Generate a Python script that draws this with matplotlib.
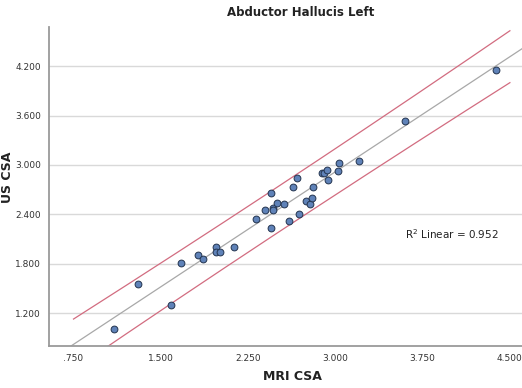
import numpy as np
import matplotlib.pyplot as plt

# valores
mri_csa = [1.099, 1.308, 1.586, 1.674, 1.823, 1.861, 1.975, 1.975, 2.009, 2.127,
           2.319, 2.399, 2.448, 2.448, 2.467, 2.467, 2.499, 2.559, 2.605, 2.634,
           2.674, 2.686, 2.748, 2.783, 2.797, 2.808, 2.883, 2.903, 2.926, 2.935,
           3.021, 3.032, 3.201, 3.599, 4.381]
us_csa = [1.010, 1.552, 1.301, 1.807, 1.907, 1.859, 2.008, 1.940, 1.940, 2.008,
          2.350, 2.453, 2.663, 2.238, 2.481, 2.453, 2.535, 2.522, 2.316, 2.729,
          2.841, 2.405, 2.559, 2.522, 2.595, 2.732, 2.906, 2.906, 2.942, 2.814,
          2.930, 3.020, 3.051, 3.529, 4.152]
xticks = [0.75, 1.5, 2.25, 3.0, 3.75, 4.5]
xtick_labels = ['.750', '1.500', '2.250', '3.000', '3.750', '4.500']
yticks = [1.2, 1.8, 2.4, 3.0, 3.6, 4.2]
r2_text = 'R$^2$ Linear = 0.952'

x = np.array(mri_csa)
y = np.array(us_csa)
n = len(x)

# ajuste lineal e intervalo de prediccion individual 95%
b1, b0 = np.polyfit(x, y, 1)
resid = y - (b0 + b1 * x)
s = np.sqrt(np.sum(resid ** 2) / (n - 2))
t = 2.0345
sxx = np.sum((x - x.mean()) ** 2)

fig = plt.figure(figsize=(5.22, 3.88), dpi=100)
ax = fig.add_axes([0.094, 0.109, 0.906, 0.822])

ax.set_xlim(0.54, 4.604)
ax.set_ylim(0.807, 4.677)

xs = np.linspace(0.54, 4.604, 200)
ax.plot(xs, b0 + b1 * xs, color='#a8a8a8', lw=0.9, zorder=2)

xi = np.linspace(0.75, 4.5, 200)
half = t * s * np.sqrt(1 + 1 / n + (xi - x.mean()) ** 2 / sxx)
ax.plot(xi, b0 + b1 * xi + half, color='#d26c80', lw=0.9, zorder=2)
ax.plot(xi, b0 + b1 * xi - half, color='#d26c80', lw=0.9, zorder=2)

ax.scatter(x, y, s=24, color='#5f82b8', edgecolor='#23344f', linewidth=0.7, zorder=3)

ax.set_xticks(xticks)
ax.set_xticklabels(xtick_labels)
ax.set_yticks(yticks)
ax.set_yticklabels(['%.3f' % v for v in yticks])
ax.tick_params(length=0, labelsize=6.5, colors='#333333', pad=6)
ax.yaxis.grid(True, color='#d9d9d9', lw=1)
ax.set_axisbelow(True)
for side in ['top', 'right']:
    ax.spines[side].set_visible(False)
for side in ['left', 'bottom']:
    ax.spines[side].set_color('#9a9a9a')
    ax.spines[side].set_linewidth(1.3)

ax.text(0.753, 0.35, r2_text, transform=ax.transAxes, fontsize=7.5, va='center',
        color='#222222')

fig.text(301 / 522, 1 - 13 / 388, 'Abductor Hallucis Left', ha='center', va='center',
         fontsize=8.5, fontweight='bold', color='#222222')
fig.text(292 / 522, 1 - 376 / 388, 'MRI CSA', ha='center', va='center',
         fontsize=9, fontweight='bold', color='#222222')
fig.text(8 / 522, 1 - 177 / 388, 'US CSA', ha='center', va='center', rotation=90,
         fontsize=9, fontweight='bold', color='#222222')

fig.savefig('out.png', dpi=100)
